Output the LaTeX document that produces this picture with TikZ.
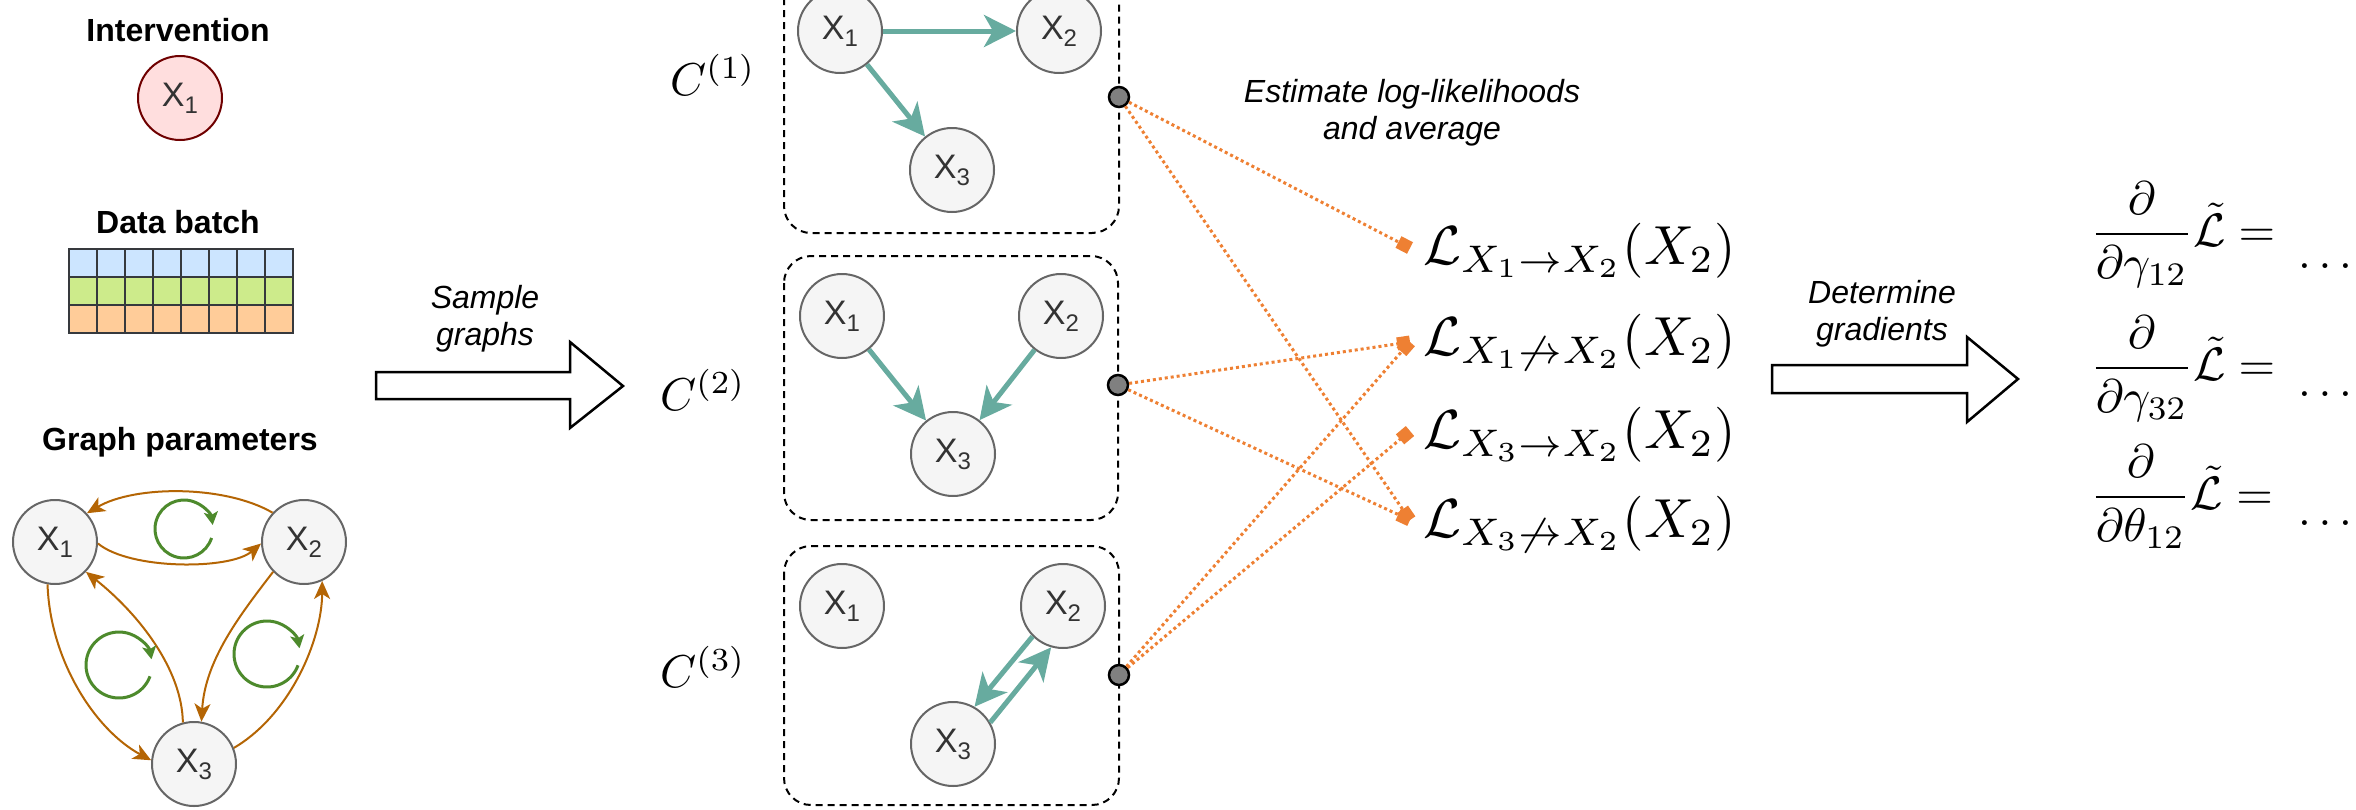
\RequirePackage{fix-cm}
\documentclass[tikz,border=0pt]{standalone}
\usepackage[no-math]{fontspec}
\newfontfamily\arialfont{Liberation Sans}
\usetikzlibrary{arrows.meta}
\definecolor{cnodefill}{HTML}{F5F5F5}
\definecolor{cnodeline}{HTML}{666666}
\definecolor{cnodetext}{HTML}{333333}
\definecolor{cintfill}{HTML}{FFDEDE}
\definecolor{cintline}{HTML}{6F0000}
\definecolor{cteal}{HTML}{67AB9F}
\definecolor{cbrown}{HTML}{B46504}
\definecolor{cleaf}{HTML}{4D8A2C}
\definecolor{corange}{HTML}{EE8033}
\definecolor{cblue}{HTML}{CCE5FF}
\definecolor{cgreen}{HTML}{CDEB8B}
\definecolor{cpeach}{HTML}{FFCC99}
\definecolor{cgrid}{HTML}{36393D}
\definecolor{cdot}{HTML}{808080}
\newcommand\xsub[1]{X\raisebox{-7pt}{\fontsize{24}{24}\selectfont #1}}
\tikzset{
  varnode/.style={circle, minimum size=84pt, inner sep=0pt, draw=cnodeline, fill=cnodefill, line width=2pt, text=cnodetext, font=\arialfont\fontsize{34}{34}\selectfont},
  intnode/.style={varnode, draw=cintline, fill=cintfill},
  ttl/.style={anchor=base, inner sep=0pt, font=\arialfont\bfseries\fontsize{32}{32}\selectfont},
  itlabel/.style={align=center, inner sep=0pt, font=\arialfont\itshape\fontsize{32}{37}\selectfont},
  gcell/.style={draw=cgrid, line width=2.5pt},
  paredge/.style={draw=cbrown, line width=2pt, -{Stealth[length=18pt,width=16pt,inset=5pt]}},
  spin/.style={draw=cleaf, line width=3pt, -{Stealth[length=13pt,width=14pt,inset=3pt]}},
  tedge/.style={draw=cteal, line width=5pt, -{Stealth[length=32pt,width=32pt,inset=9pt]}},
  sampbox/.style={draw=black, dash pattern=on 7pt off 5pt, line width=2pt, rounded corners=27pt},
  portdot/.style={circle, minimum size=20pt, inner sep=0pt, fill=cdot, draw=black, line width=2.5pt},
  est/.style={draw=corange, line width=3pt, dash pattern=on 3pt off 3pt, -{Square[length=13pt,width=13pt]}},
  blockarrow/.style={draw=black, fill=white, line width=2.5pt, line join=miter},
  mathnode/.style={inner sep=0pt, font=\fontsize{10}{12}\selectfont},
  bigmath/.style={mathnode, anchor=base west},
}
\begin{document}
\begin{tikzpicture}[x=1pt,y=-1pt]
\useasboundingbox (0,0) rectangle (2356,809);
% ---------- left column ----------
\node[ttl] (tint) at (178,41) {Intervention};
\node[intnode] (ix1) at (180,98) {\xsub{1}};
\node[ttl] (tdata) at (178,233) {Data batch};
\foreach \c in {0,...,7}{
  \draw[gcell, fill=cblue] ({69+28*\c},249) rectangle ++(28,28);
  \draw[gcell, fill=cgreen] ({69+28*\c},277) rectangle ++(28,28);
  \draw[gcell, fill=cpeach] ({69+28*\c},305) rectangle ++(28,28);
}
\node[ttl] (tgraph) at (180,450) {Graph parameters};
\node[varnode] (g1) at (55,542) {\xsub{1}};
\node[varnode] (g2) at (304,542) {\xsub{2}};
\node[varnode] (g3) at (194,764) {\xsub{3}};
\draw[paredge] (g2.137) .. controls (225,485) and (135,485) .. (g1.42);
\draw[paredge] (g1.-2) .. controls (130,570) and (230,570) .. (g2.182);
\draw[paredge] (g1.-100) .. controls (50,660) and (95,730) .. (g3.175);
\draw[paredge] (g3.105) .. controls (182,670) and (140,615) .. (g1.-44);
\draw[paredge] (g2.-136) .. controls (240,615) and (205,660) .. (g3.80);
\draw[paredge] (g3.22) .. controls (290,715) and (322,640) .. (g2.-65);
\draw[spin] (184,529) ++(18:29) arc[start angle=18, end angle=352, radius=29];
\draw[spin] (119,665) ++(20:33) arc[start angle=20, end angle=350, radius=33];
\draw[spin] (267,654) ++(20:33) arc[start angle=20, end angle=350, radius=33];
% ---------- sample arrow ----------
\draw[blockarrow] (376,372) -- (570,372) -- (570,342) -- (623,386) -- (570,428) -- (570,399) -- (376,399) -- cycle;
\node[itlabel] (tsample) at (485,319) {Sample\\graphs};
% ---------- sampled graphs ----------
\draw[sampbox] (784,-29) rectangle (1119,233);
\draw[sampbox] (784,256) rectangle (1118,520);
\draw[sampbox] (784,546) rectangle (1119,805);
\node[mathnode] (cl1) at (713,75) {\scalebox{4.6}{$C^{(1)}$}};
\node[mathnode] (cl2) at (703,390) {\scalebox{4.6}{$C^{(2)}$}};
\node[mathnode] (cl3) at (703,667) {\scalebox{4.6}{$C^{(3)}$}};
\node[varnode] (s1a) at (840,31) {\xsub{1}};
\node[varnode] (s1b) at (1059,31) {\xsub{2}};
\node[varnode] (s1c) at (952,170) {\xsub{3}};
\node[varnode] (s2a) at (842,316) {\xsub{1}};
\node[varnode] (s2b) at (1061,316) {\xsub{2}};
\node[varnode] (s2c) at (953,454) {\xsub{3}};
\node[varnode] (s3a) at (842,606) {\xsub{1}};
\node[varnode] (s3b) at (1063,606) {\xsub{2}};
\node[varnode] (s3c) at (953,744) {\xsub{3}};
\draw[tedge] (s1a) -- (s1b);
\draw[tedge] (s1a) -- (s1c);
\draw[tedge] (s2a) -- (s2c);
\draw[tedge] (s2b) -- (s2c);
\draw[tedge] (s3b.225) -- (s3c.60);
\draw[tedge] (s3c.30) -- (s3b.254);
% ---------- likelihoods ----------
\node[bigmath] (l1) at (1423,264) {\scalebox{5.5}{$\mathcal{L}_{X_1\to X_2}(X_2)$}};
\node[bigmath] (l2) at (1423,355) {\scalebox{5.5}{$\mathcal{L}_{X_1\not\to X_2}(X_2)$}};
\node[bigmath] (l3) at (1423,448) {\scalebox{5.5}{$\mathcal{L}_{X_3\to X_2}(X_2)$}};
\node[bigmath] (l4) at (1423,537) {\scalebox{5.5}{$\mathcal{L}_{X_3\not\to X_2}(X_2)$}};
\coordinate (m1) at (1410,248);
\coordinate (m2) at (1410,342);
\coordinate (m3) at (1410,431);
\coordinate (m4) at (1410,520);
\node[portdot] (d1) at (1119,97) {};
\node[portdot] (d2) at (1118,385) {};
\node[portdot] (d3) at (1119,675) {};
\draw[est] (d1) -- (m1);
\draw[est] (d1) -- (m4);
\draw[est] (d2) -- (m2);
\draw[est] (d2) -- (m4);
\draw[est] (d3) -- (m2);
\draw[est] (d3) -- (m3);
\node[itlabel] (test) at (1412,113) {Estimate log-likelihoods\\and average};
% ---------- gradients ----------
\draw[blockarrow] (1772,365) -- (1967,365) -- (1967,337) -- (2018,379) -- (1967,422) -- (1967,393) -- (1772,393) -- cycle;
\node[itlabel] (tdet) at (1882,314) {Determine\\gradients};
\node[bigmath] (q1) at (2090,246) {\scalebox{4.7}{$\displaystyle\frac{\partial}{\partial\gamma_{12}}\tilde{\mathcal{L}} =$}};
\node[bigmath] (q2) at (2090,380) {\scalebox{4.7}{$\displaystyle\frac{\partial}{\partial\gamma_{32}}\tilde{\mathcal{L}} =$}};
\node[bigmath] (q3) at (2090,509) {\scalebox{4.7}{$\displaystyle\frac{\partial}{\partial\theta_{12}}\tilde{\mathcal{L}} =$}};
\node[bigmath] (e1) at (2298,268) {\scalebox{4.6}{$\ldots$}};
\node[bigmath] (e2) at (2298,396) {\scalebox{4.6}{$\ldots$}};
\node[bigmath] (e3) at (2298,525) {\scalebox{4.6}{$\ldots$}};
\end{tikzpicture}
\end{document}
